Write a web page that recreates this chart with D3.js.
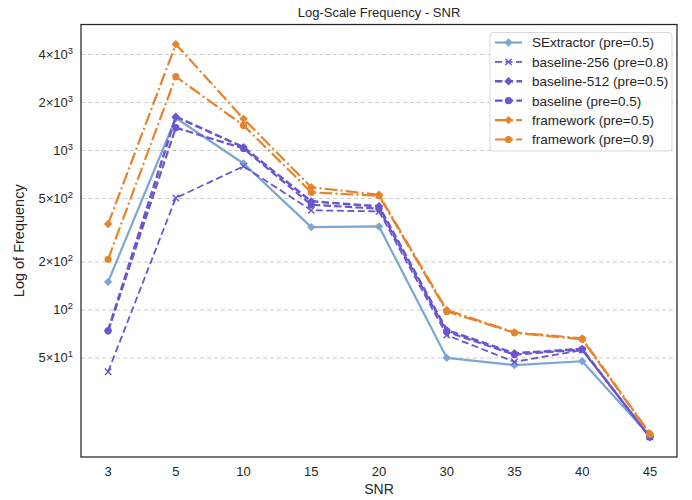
<!DOCTYPE html>
<html>
<head>
<meta charset="utf-8">
<script src="https://cdn.jsdelivr.net/npm/d3@7"></script>
<style>
body{margin:0;background:#fff;}
text{font-family:"Liberation Sans",Arial,sans-serif;fill:#262626;}
</style>
</head>
<body>
<svg id="c" width="692" height="500"></svg>
<script>
const categories = ["3","5","10","15","20","30","35","40","45"];
const sextractor   = [150, 1600, 829, 331, 334, 50.1, 45.1, 47.7, 16.2];
const baseline256  = [41, 504, 796, 422, 415, 69.6, 47.3, 56, 16.0];
const baseline512  = [74, 1630, 1049, 480, 447, 74.8, 53.5, 57, 15.9];
const baseline     = [74, 1390, 1030, 457, 432, 73.0, 52.5, 56.5, 16.0];
const framework05  = [346, 4645, 1582, 588, 528, 100, 72.4, 66.4, 16.8];
const framework09  = [208, 2905, 1436, 547, 520, 98, 72.0, 65.5, 16.6];
const yTickValues = [50, 100, 200, 500, 1000, 2000, 4000];
const yTickLabels = [["5×10","1"],["10","2"],["2×10","2"],["5×10","2"],["10","3"],["2×10","3"],["4×10","3"]];

const BLUE="#7aa6d3", PURPLE="#6a55cf", ORANGE="#e6832c";
const series = [
  {name:"SExtractor (pre=0.5)", values:sextractor, color:BLUE, dash:null, marker:"D", lw:2.2},
  {name:"baseline-256 (pre=0.8)", values:baseline256, color:PURPLE, dash:"7,3.5", marker:"x", lw:1.8},
  {name:"baseline-512 (pre=0.5)", values:baseline512, color:PURPLE, dash:"7.5,3.2", marker:"D", lw:2.5},
  {name:"baseline (pre=0.5)", values:baseline, color:PURPLE, dash:"7.5,3.2", marker:"o", lw:2.2},
  {name:"framework (pre=0.5)", values:framework05, color:ORANGE, dash:"12.8,3.2,2,3.2", marker:"D", lw:2.2},
  {name:"framework (pre=0.9)", values:framework09, color:ORANGE, dash:"12.8,3.2,2,3.2", marker:"o", lw:2.2}
];

const L=81, R=677, T=24.5, B=457;
const svg = d3.select("#c");

const x = d3.scalePoint().domain(categories).range([L,R]).padding(0.4);
const all = series.flatMap(s=>s.values);
const lmin = Math.log10(d3.min(all)), lmax = Math.log10(d3.max(all));
const pad = (lmax-lmin)*0.05;
const y = d3.scaleLog().domain([Math.pow(10,lmin-pad), Math.pow(10,lmax+pad)]).range([B,T]);

// grid
svg.append("g").selectAll("line").data(yTickValues).join("line")
  .attr("x1",L).attr("x2",R).attr("y1",d=>y(d)).attr("y2",d=>y(d))
  .attr("stroke","#cccccc").attr("stroke-width",1).attr("stroke-dasharray","4,3");

// y ticks
const yt = svg.append("g").selectAll("text").data(yTickValues).join("text")
  .attr("x",L-8).attr("y",d=>y(d)+4.5).attr("text-anchor","end").attr("font-size",13);
yt.each(function(d,i){
  const t=d3.select(this);
  t.append("tspan").text(yTickLabels[i][0]);
  t.append("tspan").attr("dy",-5.5).attr("font-size",9.5).text(yTickLabels[i][1]);
});

// x ticks
svg.append("g").selectAll("text").data(categories).join("text")
  .attr("x",d=>x(d)).attr("y",476).attr("text-anchor","middle").attr("font-size",13).text(d=>d);

function drawMarker(g, type, cx, cy, color){
  if(type==="D"){
    const r=4.2;
    g.append("path").attr("d",`M${cx},${cy-r}L${cx+r},${cy}L${cx},${cy+r}L${cx-r},${cy}Z`).attr("fill",color);
  } else if(type==="o"){
    g.append("circle").attr("cx",cx).attr("cy",cy).attr("r",3.6).attr("fill",color);
  } else {
    const r=3.2;
    g.append("path").attr("d",`M${cx-r},${cy-r}L${cx+r},${cy+r}M${cx-r},${cy+r}L${cx+r},${cy-r}`)
      .attr("stroke",color).attr("stroke-width",1.4);
  }
}

const line = d3.line().x((d,i)=>x(categories[i])).y(d=>y(d));
const pg = svg.append("g");
series.forEach(s=>{
  const g = pg.append("g");
  g.append("path").attr("d",line(s.values)).attr("fill","none").attr("stroke",s.color)
    .attr("stroke-width",s.lw).attr("stroke-dasharray",s.dash).attr("stroke-linejoin","round");
  s.values.forEach((v,i)=>drawMarker(g,s.marker,x(categories[i]),y(v),s.color));
});

// frame
svg.append("rect").attr("x",L).attr("y",T).attr("width",R-L).attr("height",B-T)
  .attr("fill","none").attr("stroke","#262626").attr("stroke-width",1.25);

// title & labels
svg.append("text").attr("x",(L+R)/2).attr("y",17).attr("text-anchor","middle").attr("font-size",13).text("Log-Scale Frequency - SNR");
svg.append("text").attr("x",(L+R)/2).attr("y",494).attr("text-anchor","middle").attr("font-size",14).text("SNR");
svg.append("text").attr("transform",`translate(24,${(T+B)/2}) rotate(-90)`).attr("text-anchor","middle").attr("font-size",14.5).text("Log of Frequency");

// legend
const lg = svg.append("g");
lg.append("rect").attr("x",490).attr("y",32.5).attr("width",182).attr("height",118.5).attr("rx",3)
  .attr("fill","#fff").attr("fill-opacity",0.85).attr("stroke","#d9d9d9").attr("stroke-width",1);
series.forEach((s,i)=>{
  const ry = 42.5 + i*19.4;
  lg.append("line").attr("x1",495).attr("x2",522).attr("y1",ry).attr("y2",ry)
    .attr("stroke",s.color).attr("stroke-width",s.lw).attr("stroke-dasharray",s.dash);
  drawMarker(lg,s.marker,508.5,ry,s.color);
  lg.append("text").attr("x",532).attr("y",ry+4.8).attr("font-size",13.5).text(s.name);
});
</script>
</body>
</html>
